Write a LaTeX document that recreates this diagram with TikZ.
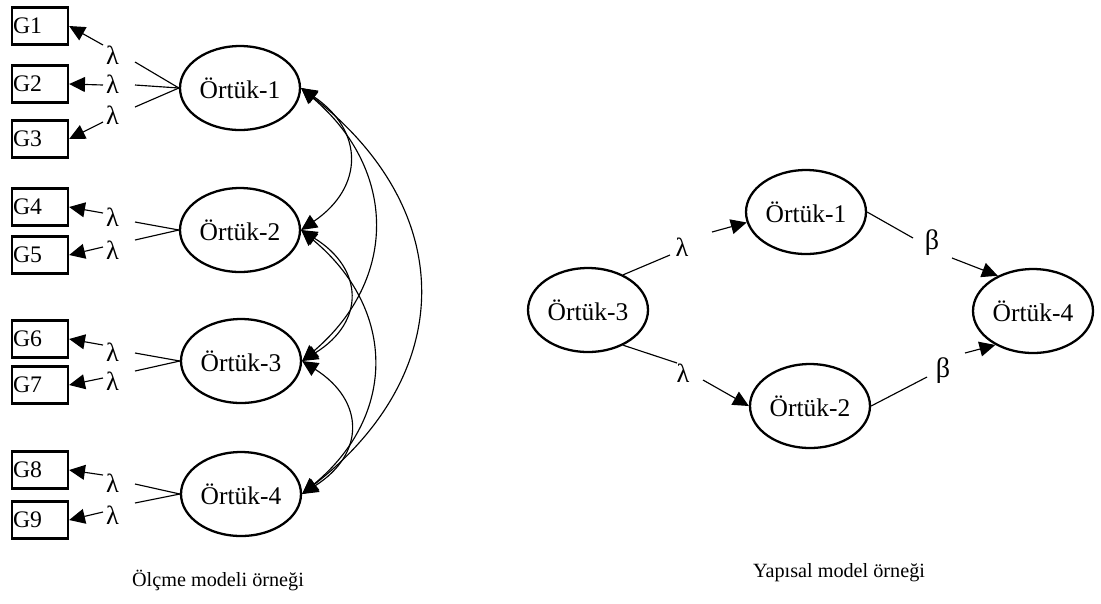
\documentclass[tikz,border=0pt]{standalone}
\usepackage{fontspec}
\setmainfont{Liberation Serif}
\usetikzlibrary{arrows.meta,shapes.geometric}
\begin{document}
\begin{tikzpicture}[x=0.02cm,y=-0.02cm,
  lat/.style={ellipse,draw,line width=1.3pt,minimum width=2.4cm,minimum height=1.68cm,inner sep=0pt,font=\fontsize{14.5}{16}\selectfont},
  obs/.style={rectangle,draw,line width=1.3pt,minimum width=1.12cm,minimum height=0.74cm,text width=1.08cm,align=left,inner xsep=0.5pt,font=\fontsize{13.5}{15}\selectfont},
  lab/.style={inner sep=0pt,font=\fontsize{15}{17}\selectfont},
  con/.style={line width=0.65pt},
  arr/.style={con,-{Triangle[length=9pt,width=8.5pt]}},
  cov/.style={con,{Triangle[length=9pt,width=8.5pt]}-{Triangle[length=9pt,width=8.5pt]}},
  captxt/.style={inner sep=0pt,font=\fontsize{11.5}{13}\selectfont}
]
\useasboundingbox (0,0) rectangle (1101,603);

% ---------- measurement model ----------
\node[lat] (e1) at (240,88) {Örtük-1};
\node[lat] (e2) at (240,230) {Örtük-2};
\node[lat] (e3) at (241,361) {Örtük-3};
\node[lat] (e4) at (241,494) {Örtük-4};

\node[obs] (g1) at (40,26) {G1};
\node[obs] (g2) at (40,84) {G2};
\node[obs] (g3) at (40,139) {G3};
\node[obs] (g4) at (40,207) {G4};
\node[obs] (g5) at (40,255) {G5};
\node[obs] (g6) at (40,339) {G6};
\node[obs] (g7) at (40,385) {G7};
\node[obs] (g8) at (40,470) {G8};
\node[obs] (g9) at (40,520) {G9};

% loadings
\foreach \i/\e/\ly/\cy/\ay in {1/e1/55/62/45, 2/e1/84/85/85, 3/e1/115/107/122,
                               4/e2/217/222/213, 5/e2/250/240/247,
                               6/e3/352/353/345, 7/e3/381/371/378,
                               8/e4/483/484/475, 9/e4/515/503/512}{
  \node[lab] (l\i) at (112.5,\ly) {λ};
  \coordinate (c\i) at (135,\cy);
  \coordinate (a\i) at (103,\ay);
  \draw[con] (\e.west) -- (c\i);
  \draw[arr] (a\i) -- (g\i.east);
}

% covariances
\draw[cov] (e1.east) .. controls +(63,43) and +(63,-43) .. (e2.east);
\draw[cov] (e1.east) .. controls +(96,82) and +(96,-82) .. (e3.east);
\draw[cov] (e1.east) .. controls +(156,122) and +(156,-122) .. (e4.east);
\draw[cov] (e2.east) .. controls +(63,39) and +(63,-39) .. (e3.east);
\draw[cov] (e2.east) .. controls +(95,79) and +(95,-79) .. (e4.east);
\draw[cov] (e3.east) .. controls +(63,40) and +(63,-40) .. (e4.east);

\node[captxt] (capL) at (218,580) {Ölçme modeli örneği};

% ---------- structural model ----------
\node[lat] (r3) at (588,310) {Örtük-3};
\node[lat] (r1) at (806,212) {Örtük-1};
\node[lat] (r2) at (810,406) {Örtük-2};
\node[lat] (r4) at (1033,311) {Örtük-4};

\coordinate (u1) at (670,255);
\node[lab] (lu) at (682,247) {λ};
\coordinate (u2) at (712,232);
\draw[con] (r3.45) -- (u1);
\draw[arr] (u2) -- (r1.190);

\coordinate (d1) at (677,363);
\node[lab] (ld) at (683,373) {λ};
\coordinate (d2) at (703,380);
\draw[con] (r3.-45) -- (d1);
\draw[arr] (d2) -- (r2.west);

\coordinate (b1) at (913,238);
\node[lab,font=\fontsize{16}{18}\selectfont] (bu) at (932,243) {β};
\coordinate (b2) at (952,258);
\draw[con] (r1.east) -- (b1);
\draw[arr] (b2) -- (r4.135);

\coordinate (b3) at (927,377);
\node[lab,font=\fontsize{16}{18}\selectfont] (bd) at (943,371) {β};
\coordinate (b4) at (965,353);
\draw[con] (r2.east) -- (b3);
\draw[arr] (b4) -- (r4.222);

\node[captxt] (capR) at (839,573) {Yapısal model örneği};
\end{tikzpicture}
\end{document}
